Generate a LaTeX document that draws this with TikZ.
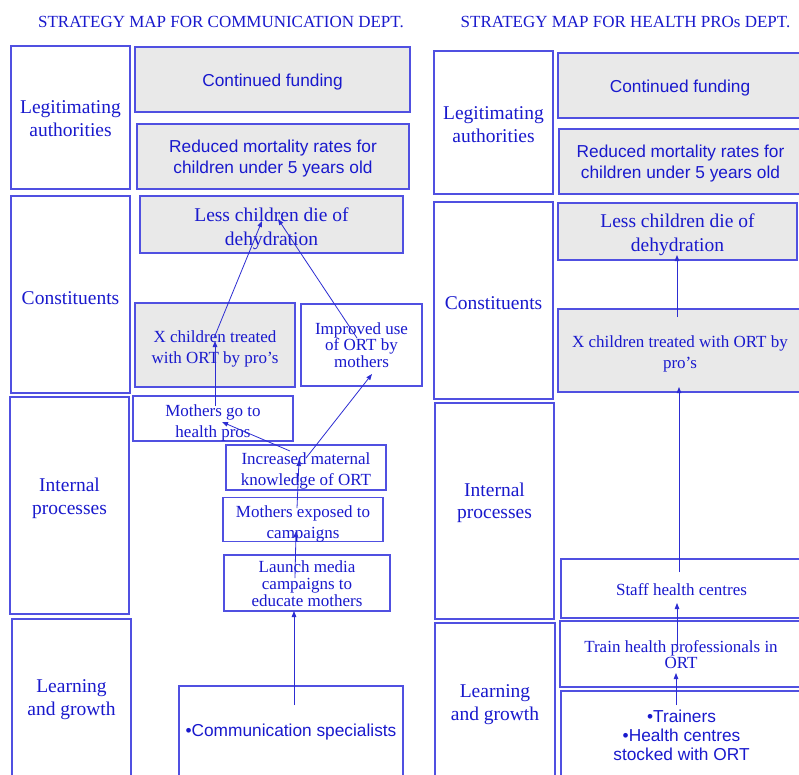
\documentclass[tikz,border=0pt]{standalone}
\usepackage{fontspec}
\setmainfont{Liberation Serif}
\setsansfont{Liberation Sans}
\usetikzlibrary{arrows.meta}
\definecolor{ink}{RGB}{25,25,205}
\definecolor{edge}{RGB}{80,80,225}
\definecolor{shade}{RGB}{233,233,233}
\definecolor{wire}{RGB}{45,45,210}
\tikzset{
  box/.style={draw=edge, line width=1.2pt, text=ink, align=center, inner sep=0pt,
    font=\fontsize{17}{21}\selectfont},
  greybox/.style={box, fill=shade},
  lane/.style={box, font=\fontsize{19.5}{22.5}\selectfont},
  sanstext/.style={font=\sffamily\fontsize{17.3}{21}\selectfont},
  tight/.style={font=\fontsize{17}{16.8}\selectfont},
  big/.style={font=\fontsize{19.5}{24}\selectfont},
  wh/.style 2 args={minimum width=#1pt, minimum height=#2pt},
  % move the text of a box down by #1 (dropn: #2 = number of extra lines),
  % or up by #1 (rise)
  dropn/.style 2 args={execute at begin node={%
      \rule{0pt}{\dimexpr0.69em+\baselineskip*#2+#1pt*2\relax}}},
  drop/.style={dropn={#1}{0}},
  rise/.style={execute at end node={\rule[-\dimexpr0.22em+#1pt*2\relax]{0pt}{0pt}}},
  link/.style={draw=wire, line width=0.8pt, -{Triangle[length=6pt,width=4.5pt]}},
  heading/.style={text=ink, font=\fontsize{17}{20}\selectfont, anchor=base, inner sep=0pt},
}
\begin{document}
\begin{tikzpicture}[x=1pt, y=-1pt]
\useasboundingbox (0,0) rectangle (799,774);
\fill[white] (0,0) rectangle (799,774);
\clip (0,0) rectangle (799,774);

% ---------- headings ----------
\node[heading] (t1) at (221,27.5) {STRATEGY MAP FOR COMMUNICATION DEPT.};
\node[heading] (t2) at (625.5,27.5) {STRATEGY MAP FOR HEALTH PROs DEPT.};

% ---------- communication department ----------
\node[lane, dropn={1}{1}, wh={119}{143}] (la1) at (70.5,117.5) {Legitimating\\authorities};
\node[lane, drop=3, wh={119}{197}] (co1) at (70.5,294.5) {Constituents};
\node[lane, rise=7, wh={119}{217}] (ip1) at (69.5,505.5) {Internal\\processes};
\node[lane, wh={119}{161}] (lg1) at (71.5,699.5) {Learning\\and growth};

\node[greybox, sanstext, drop=3, wh={275}{65}] (cf1) at (272.5,79.5) {Continued funding};
\node[greybox, sanstext, dropn={2}{1}, wh={272}{65}] (rm1) at (273,156.5) {Reduced mortality rates for\\children under 5 years old};
\node[greybox, big, dropn={4}{1}, wh={263}{57}] (lc1) at (271.5,224.5) {Less children die of\\dehydration};
\node[greybox, dropn={4}{1}, wh={160}{84}] (xc1) at (215,345) {X children treated\\with ORT by pro’s};
\node[box, tight, wh={121}{82}] (iu1) at (361.5,345) {Improved use\\of ORT by\\mothers};
\node[box, dropn={4}{1}, wh={160}{45}] (mg1) at (213,418.5) {Mothers go to\\health pros};
\node[box, dropn={3}{1}, wh={160}{45}] (im1) at (306,467.5) {Increased maternal\\knowledge of ORT};
\node[box, dropn={4}{1}, wh={160}{43}] (me1) at (303,519.5) {Mothers exposed to\\campaigns};
\node[box, tight, dropn={1}{2}, wh={166}{56}] (lm1) at (307,583) {Launch media\\campaigns to\\educate mothers};
\node[box, sanstext, drop=1, wh={224}{90}] (cs1) at (291,731) {•Communication specialists};

% ---------- health professionals department ----------
\node[lane, dropn={2}{1}, wh={119}{143}] (la2) at (493.5,122.5) {Legitimating\\authorities};
\node[lane, drop=2, wh={119}{197}] (co2) at (493.5,300.5) {Constituents};
\node[lane, rise=8, wh={119}{216}] (ip2) at (494.5,511) {Internal\\processes};
\node[lane, dropn={3}{1}, wh={120}{157}] (lg2) at (495,701.5) {Learning\\and growth};

\node[greybox, sanstext, drop=3, wh={244}{65}] (cf2) at (680,85.5) {Continued funding};
\node[greybox, sanstext, dropn={2}{1}, wh={243}{65}] (rm2) at (680.5,161.5) {Reduced mortality rates for\\children under 5 years old};
\node[greybox, big, dropn={3}{1}, wh={239}{57}] (lc2) at (677.5,231.5) {Less children die of\\dehydration};
\node[greybox, dropn={3.5}{1}, wh={244}{83}] (xc2) at (680,350.5) {X children treated with ORT by\\pro’s};
\node[box, drop=1, wh={241}{59}] (sh2) at (681.5,588.5) {Staff health centres};
\node[box, dropn={1}{1}, font=\fontsize{17}{16}\selectfont, wh={242}{66}] (th2) at (681,654) {Train health professionals in\\ORT};
\node[box, font=\sffamily\fontsize{17.3}{19}\selectfont, wh={241}{88}] (tr2) at (681.5,735) {•Trainers\\•Health centres\\stocked with ORT};

% ---------- connector end points ----------
\coordinate (xc1s) at (214,338);   \coordinate (lc1a) at (262,221);
\coordinate (iu1s) at (357,338);   \coordinate (lc1b) at (278,219);
\coordinate (mg1s) at (215,406);   \coordinate (xc1e) at (215,341);
\coordinate (im1s) at (290,451);   \coordinate (mg1e) at (222,422);
\coordinate (im1t) at (306,458);   \coordinate (iu1e) at (372,374);
\coordinate (me1s) at (297,508);   \coordinate (im1e) at (299,460);
\coordinate (lm1s) at (295,578);   \coordinate (me1e) at (296,531);
\coordinate (cs1s) at (294,705);   \coordinate (lm1e) at (294,611);

\coordinate (xc2s) at (677,317);   \coordinate (lc2e) at (677,255);
\coordinate (sh2s) at (679,572);   \coordinate (xc2e) at (679,387);
\coordinate (th2s) at (677,648);   \coordinate (sh2e) at (677,603);
\coordinate (tr2s) at (676,705);   \coordinate (th2e) at (676,673);

% ---------- cause-and-effect links ----------
\draw[link] (xc1s) -- (lc1a);
\draw[link] (iu1s) -- (lc1b);
\draw[link] (mg1s) -- (xc1e);
\draw[link] (im1s) -- (mg1e);
\draw[link] (im1t) -- (iu1e);
\draw[link] (me1s) -- (im1e);
\draw[link] (lm1s) -- (me1e);
\draw[link] (cs1s) -- (lm1e);

\draw[link] (xc2s) -- (lc2e);
\draw[link] (sh2s) -- (xc2e);
\draw[link] (th2s) -- (sh2e);
\draw[link] (tr2s) -- (th2e);
\end{tikzpicture}
\end{document}
